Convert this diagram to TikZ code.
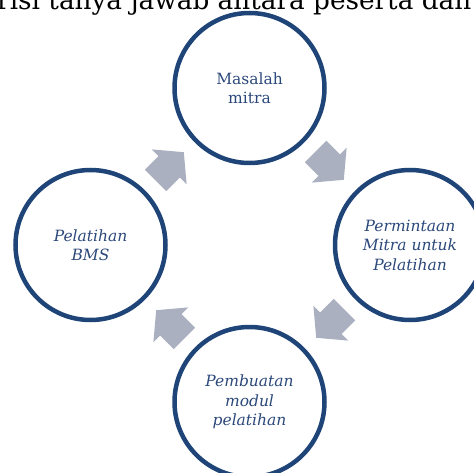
\documentclass[tikz,border=0pt]{standalone}
\usepackage{fontspec}
\setmainfont{DejaVu Serif}
\usetikzlibrary{shapes.arrows}

\begin{document}
\begin{tikzpicture}[x=1pt,y=1pt,
  stepcircle/.style={circle,draw=circleColor,line width=4.5pt,minimum size=150pt,
    inner sep=0pt,align=center,text=labelColor,font=\fontsize{15.5}{19.5}\selectfont},
  stepitalic/.style={stepcircle,font=\fontsize{15.5}{19.5}\selectfont\itshape},
  cyclearrow/.style={single arrow,fill=arrowColor,draw=none,anchor=tip,
    minimum height=40pt,inner xsep=0pt,inner ysep=15pt,
    single arrow head extend=9.5pt,single arrow tip angle=100}]
\definecolor{circleColor}{RGB}{31,68,120}
\definecolor{labelColor}{RGB}{43,72,122}
\definecolor{arrowColor}{RGB}{170,176,192}
\path[use as bounding box] (0,0) rectangle (474,472);
\clip (0,0) rectangle (474,472);

% text of the page above the figure
\node[anchor=base west,inner sep=0pt,font=\fontsize{26.3}{30}\selectfont] (pagetext) at (-3,462)
  {risi tanya jawab antara peserta dan};

% the four steps
\node[stepcircle] (masalah) at (249.5,384) {Masalah\\mitra};
\node[stepitalic] (permintaan) at (410,227) {Permintaan\\Mitra untuk\\Pelatihan};
\node[stepitalic] (pembuatan) at (249.5,70) {Pembuatan\\modul\\pelatihan};
\node[stepitalic] (pelatihan) at (90.5,227) {Pelatihan\\BMS};

% arrows between the steps
\node[cyclearrow,rotate=45] (pelatihan-masalah) at (184,320) {};
\node[cyclearrow,rotate=-45] (masalah-permintaan) at (344,292) {};
\node[cyclearrow,rotate=-135] (permintaan-pembuatan) at (316,134) {};
\node[cyclearrow,rotate=135] (pembuatan-pelatihan) at (156,162) {};
\end{tikzpicture}
\end{document}
